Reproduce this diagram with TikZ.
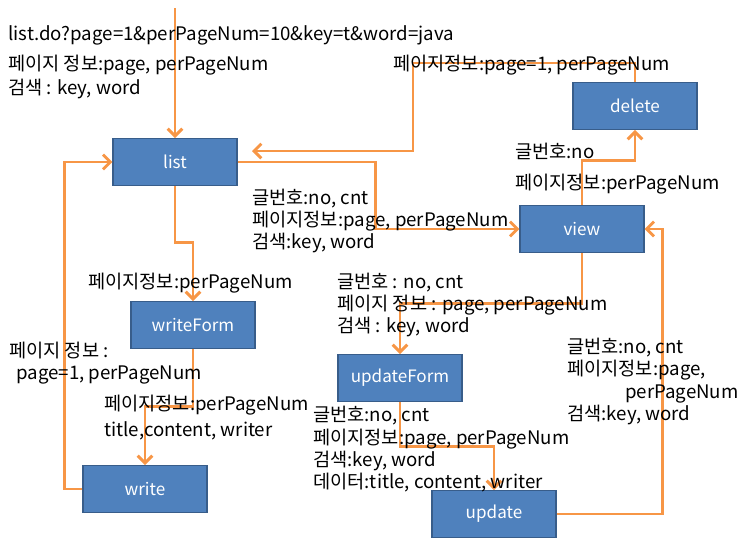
\documentclass[tikz,border=0pt]{standalone}
\usepackage{fontspec}
\setmainfont{Noto Sans CJK KR}
\usetikzlibrary{arrows.meta}
\definecolor{boxfill}{HTML}{4F81BD}
\definecolor{boxline}{HTML}{385D8A}
\definecolor{arrcol}{HTML}{F79646}
\begin{document}
\begin{tikzpicture}[x=0.75pt,y=-0.75pt,
  pagebox/.style={draw=boxline, line width=0.8pt, fill=boxfill, minimum width=93pt, minimum height=35pt, inner sep=0, text=white, font=\fontsize{12.8}{14}\selectfont},
  lbl/.style={anchor=base west, inner sep=0, font=\fontsize{14}{16}\selectfont},
  arr/.style={draw=arrcol, line width=2.2pt, -{Straight Barb[length=5.5pt,width=11pt]}}]
\useasboundingbox (0,0) rectangle (740,547);
\node[pagebox] (list) at (175,162) {list};
\node[pagebox] (delete) at (635,106) {delete};
\node[pagebox] (view) at (582,229) {view};
\node[pagebox] (writeForm) at (193,325) {writeForm};
\node[pagebox] (write) at (145,489) {write};
\node[pagebox] (updateForm) at (400,378) {updateForm};
\node[pagebox] (update) at (494,514) {update};
\coordinate (start) at (175,8);
\coordinate (dl1) at (413,63);
\coordinate (listin) at (252,151);
\draw[arr] (start) -- (list.north);
\draw[arr] (list.east) -- ++(138,0) |- (view.west);
\draw[arr] (delete.north) |- (dl1) |- (listin);
\draw[arr] (view.north) -- ++(0,-45) -| (delete.south);
\draw[arr] (list.south) -- ++(0,57) -| (writeForm.north);
\draw[arr] (writeForm.south) -- ++(0,58) -| (write.north);
\draw[arr] (write.west) -- ++(-18,0) |- (list.west);
\draw[arr] (view.south) -- ++(0,51) -| (updateForm.north);
\draw[arr] (updateForm.south) -- ++(0,45) -| (update.north);
\draw[arr] (update.east) -- ++(106,0) |- (view.east);
% labels
\node[lbl] (t1) at (8,40) {list.do?page=1\&perPageNum=10\&key=t\&word=java};
\node[lbl] (t2) at (8,70) {페이지 정보:page, perPageNum};
\node[lbl] (t3) at (8,94) {검색 : key, word};
\node[lbl] (t4) at (393,70) {페이지정보:page=1, perPageNum};
\node[lbl] (t5) at (515,158) {글번호:no};
\node[lbl] (t6) at (515,189) {페이지정보:perPageNum};
\node[lbl] (t7) at (252,204) {글번호:no, cnt};
\node[lbl] (t8) at (252,226) {페이지정보:page, perPageNum};
\node[lbl] (t9) at (252,248) {검색:key, word};
\node[lbl] (t10) at (88,288) {페이지정보:perPageNum};
\node[lbl] (t11) at (337,288) {글번호 : no, cnt};
\node[lbl] (t12) at (337,310) {페이지 정보 : page, perPageNum};
\node[lbl] (t13) at (337,332) {검색 : key, word};
\node[lbl] (t14) at (9,357) {페이지 정보 :};
\node[lbl] (t15) at (16,379) {page=1, perPageNum};
\node[lbl] (t16) at (104,410) {페이지정보:perPageNum};
\node[lbl] (t17) at (104,436) {title,content, writer};
\node[lbl] (t18) at (313,421) {글번호:no, cnt};
\node[lbl] (t19) at (313,444) {페이지정보:page, perPageNum};
\node[lbl] (t20) at (313,466) {검색:key, word};
\node[lbl] (t21) at (313,488) {데이터:title, content, writer};
\node[lbl] (t22) at (567,353) {글번호:no, cnt};
\node[lbl] (t23) at (567,375) {페이지정보:page,};
\node[lbl] (t24) at (625,398) {perPageNum};
\node[lbl] (t25) at (567,420) {검색:key, word};
\end{tikzpicture}
\end{document}
